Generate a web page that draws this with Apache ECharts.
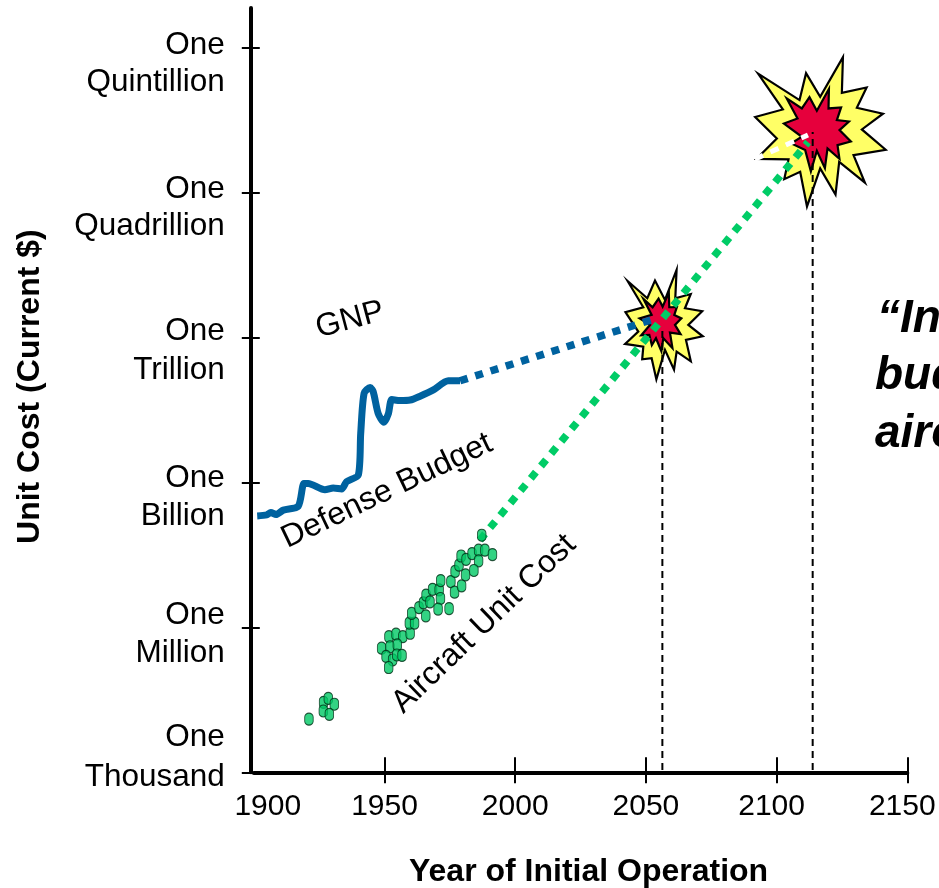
<!DOCTYPE html>
<html><head><meta charset="utf-8">
<style>html,body{margin:0;padding:0;background:#fff;overflow:hidden}#c{width:939px;height:888px}</style>
<script src="https://cdn.jsdelivr.net/npm/echarts@6/dist/echarts.min.js"></script>
</head><body><div id="c"></div>
<script>
// Y values are log10(US dollars)
const yearTicks = [1900,1950,2000,2050,2100,2150];
const yTicks = [3,6,9,12,15,18];
const yTickNames = {3:['One','Thousand'],6:['One','Million'],9:['One','Billion'],12:['One','Trillion'],15:['One','Quadrillion'],18:['One','Quintillion']};
const defenseYears = [1901.3,1904.9,1906.5,1908.5,1911.3,1917.0,1919.2,1920.8,1927.2,1930.4,1933.6,1935.5,1940.0,1940.9,1942.2,1944.5,1945.7,1947.6,1949.8,1951.5,1952.8,1955.9,1959.8,1963.6,1968.7,1974.4,1978.9];
const defenseLog = [8.31,8.33,8.38,8.34,8.43,8.51,8.98,8.98,8.85,8.89,8.87,9.02,9.16,10.02,10.85,10.97,10.88,10.43,10.25,10.43,10.72,10.70,10.71,10.79,10.92,11.11,11.11];
const aircraftYears = [1921.1,1926.7,1928.5,1930.8,1926.6,1928.9,1948.9,1951.7,1954.4,1957.0,1952.1,1954.9,1950.6,1953.1,1951.6,1954.7,1956.7,1959.8,1959.5,1961.5,1960.4,1963.2,1964.9,1965.9,1967.4,1965.8,1968.4,1970.9,1971.5,1971.4,1970.5,1974.7,1975.4,1976.8,1977.0,1979.5,1981.0,1978.5,1979.3,1981.2,1983.5,1986.0,1988.4,1991.3,1986.0,1984.2,1987.2];
const aircraftLog = [4.10,4.45,4.53,4.41,4.27,4.20,5.57,5.81,5.86,5.81,5.60,5.64,5.40,5.33,5.17,5.43,5.42,5.88,6.09,6.09,6.29,6.41,6.51,6.67,6.53,6.24,6.79,6.78,6.97,6.60,6.38,6.39,6.95,6.73,7.16,6.86,7.09,7.29,7.48,7.41,7.53,7.60,7.60,7.51,7.38,7.18,7.91];
const gnpProjection = [[1978.9,11.11],[2053.8,12.40]];
const aircraftProjection = [[1986.5,7.81],[2112,16.05]];
const dropSmall = [[2056.3,3.05],[2056.3,12.2]];
const dropLarge = [[2113.8,3.05],[2113.8,16.26]];
const whiteStreak = [[2091.7,15.70],[2112,16.20]];
const burstSmallCenter = [[2056.4,12.37]];
const burstLargeCenter = [[2115.4,16.37]];

// Burst outlines: traced outer edge, pixel offsets x3 around each burst's centre (shape only).
// Points alternate tip, valley. Tips are pulled in part of the stroke's miter so the stroked tip lands near the traced spot.
const LW=2.2;
const off=(pts,cx,cy)=>{
  const n=pts.length;
  const q=pts.map(p=>[(p[0]-cx)/3,(p[1]-cy)/3]);
  return q.map((p,i)=>{
    if(i%2) return p;
    const a=q[(i+n-1)%n],b=q[(i+1)%n];
    let u=[a[0]-p[0],a[1]-p[1]],v=[b[0]-p[0],b[1]-p[1]];
    const lu=Math.hypot(u[0],u[1]),lv=Math.hypot(v[0],v[1]);
    u=[u[0]/lu,u[1]/lu];v=[v[0]/lv,v[1]/lv];
    const th=Math.acos(u[0]*v[0]+u[1]*v[1]);
    const m=0.45*(LW/2)/Math.sin(th/2);
    const bx=u[0]+v[0],by=u[1]+v[1],bl=Math.hypot(bx,by)||1;
    return [p[0]+bx/bl*m,p[1]+by/bl*m];
  });
};
const smallYellow = off([[46,85],[112,145],[135,88],[165,150],[202,50],[196,145],[245,130],[225,175],[280,183],[235,225],[282,260],[228,270],[245,338],[200,305],[193,365],[165,300],[139,395],[125,325],[95,330],[100,290],[42,283],[85,245],[44,186],[100,172]],158,210);
const smallRed = off([[95,140],[128,172],[146,143],[158,170],[178,120],[178,172],[203,170],[193,195],[217,205],[195,225],[215,255],[180,248],[190,300],[160,265],[155,310],[138,265],[125,290],[118,255],[90,258],[120,225],[85,205],[125,195]],158,210);
const largeYellow = off([[48,95],[178,180],[197,95],[240,170],[310,45],[305,158],[382,140],[350,203],[432,220],[365,268],[440,330],[340,345],[378,433],[297,365],[287,468],[240,385],[200,505],[180,395],[130,420],[145,358],[45,358],[110,295],[42,230],[128,208]],230,260);
const largeRed = off([[135,170],[185,205],[208,168],[230,212],[268,140],[265,205],[305,200],[290,240],[330,243],[298,270],[335,305],[292,315],[300,360],[262,325],[255,390],[230,332],[212,400],[195,330],[150,310],[185,290],[128,250],[172,235]],230,260);

const burst = (name,center,shape,fill,z)=>({
  name,type:'custom',coordinateSystem:'cartesian2d',xAxisIndex:0,yAxisIndex:0,z,clip:false,silent:true,
  data:center,
  renderItem:(p,api)=>{
    const c=api.coord([api.value(0),api.value(1)]);
    return {type:'polygon',shape:{points:shape.map(o=>[c[0]+o[0],c[1]+o[1]])},style:{fill,stroke:'#000',lineWidth:LW,lineJoin:'miter',miterLimit:30}};
  }
});
const line = (name,data,color,width,dash,z,smooth)=>({
  name,type:'line',xAxisIndex:0,yAxisIndex:0,data,symbol:'none',z,smooth:smooth||false,clip:false,silent:true,
  lineStyle:{color,width,type:dash||'solid',cap:'butt'}
});

const F='"Liberation Sans",Arial,sans-serif';
const LS=31.5;
// vertical nudge of each two-line tick label, and its line spacing
const yNudge={18:[31,0,37],15:[29,0,37],12:[27,0,39],9:[30,0,38],6:[14,0,38],3:[0,30,40]};
const rich={};
Object.keys(yNudge).forEach(k=>rich['t'+k]={fontFamily:F,fontSize:LS,lineHeight:yNudge[k][2],align:'right',color:'#000',padding:[yNudge[k][0],0,yNudge[k][1],0]});
const xShift={1900:[0,0,0,28],2100:[0,10,0,0],2150:[0,10,0,0]};
const xRich={n:{fontFamily:F,fontSize:30,color:'#000'}};
Object.keys(xShift).forEach(k=>xRich['x'+k]={fontFamily:F,fontSize:30,color:'#000',padding:xShift[k]});

const yMax=18.83;
const ann=(text,x,y,deg)=>({type:'text',x,y,rotation:deg*Math.PI/180,z:50,style:{text,fill:'#000',font:'32px '+F,textAlign:'center',textVerticalAlign:'middle'}});
const quote=(text,x,y)=>({type:'text',x,y,z:50,style:{text,fill:'#000',font:'italic bold 46px '+F,textVerticalAlign:'middle'}});
const stadium='path://M0 3.5A3.5 3.5 0 0 1 7 3.5V7.5A3.5 3.5 0 0 1 0 7.5Z';

const chart=echarts.init(document.getElementById('c'),null,{renderer:'canvas'});
chart.setOption({
  animation:false,backgroundColor:'#fff',
  grid:{left:253.8,right:31.7,top:8,bottom:115.7,containLabel:false,outerBoundsMode:'none'},
  xAxis:[
    {type:'value',min:1900,max:2150,position:'bottom',splitLine:{show:false},
     name:'Year of Initial Operation',nameLocation:'middle',nameGap:84,
     nameTextStyle:{fontFamily:F,fontSize:32,fontWeight:'bold',color:'#000',padding:[0,0,0,16]},
     axisLine:{show:true,onZero:false,lineStyle:{color:'#000',width:4}},
     axisTick:{show:true,length:11,lineStyle:{color:'#000',width:2},customValues:yearTicks.slice(1)},
     axisLabel:{show:true,margin:19.5,customValues:yearTicks,rich:xRich,
       formatter:v=>xShift[v]?`{x${v}|${v}}`:`{n|${v}}`}},
    {type:'value',min:1900,max:2150,position:'bottom',splitLine:{show:false},
     axisLine:{show:false},axisLabel:{show:false},
     axisTick:{show:true,inside:true,length:15,lineStyle:{color:'#000',width:2},customValues:yearTicks.slice(1)}}
  ],
  yAxis:[
    {type:'value',min:3,max:yMax,position:'left',offset:3,splitLine:{show:false},
     name:'Unit Cost (Current $)',nameLocation:'middle',nameGap:205,nameRotate:90,
     nameTextStyle:{fontFamily:F,fontSize:32,fontWeight:'bold',color:'#000',padding:[0,0,0,7]},
     axisLine:{show:true,onZero:false,lineStyle:{color:'#000',width:4}},
     axisTick:{show:true,length:9,lineStyle:{color:'#000',width:2},customValues:yTicks},
     axisLabel:{show:true,margin:26,customValues:yTicks,rich,align:'right',
       formatter:v=>{const n=yTickNames[v];return `{t${v}|${n[0]}}\n{t${v}|${n[1]}}`;}}},
    {type:'value',min:3,max:yMax,position:'left',offset:3,splitLine:{show:false},
     axisLine:{show:false},axisLabel:{show:false},
     axisTick:{show:true,inside:true,length:9,lineStyle:{color:'#000',width:2},customValues:yTicks}}
  ],
  graphic:{elements:[
    ann('GNP',350,320,15),
    ann('Defense Budget',387,491,25.5),
    ann('Aircraft Unit Cost',484,624,44),
    quote('“In',877,319),quote('budget',875,376),quote('aircraft',875,434)
  ]},
  series:[
    burst('Burst 2056 outer',burstSmallCenter,smallYellow,'#FFFF66',3),
    burst('Burst 2056 inner',burstSmallCenter,smallRed,'#E6003C',4),
    burst('Burst 2115 outer',burstLargeCenter,largeYellow,'#FFFF66',3),
    burst('Burst 2115 inner',burstLargeCenter,largeRed,'#E6003C',4),
    line('Year marker 2056',dropSmall,'#000',2,[7,5],5),
    line('Year marker 2114',dropLarge,'#000',2,[7,5],5),
    line('Streak',whiteStreak,'#fff',5,[9,8],6),
    line('GNP projection',gnpProjection,'#00629F',7.5,[8,8],7),
    line('Aircraft projection',aircraftProjection,'#00CC66',7.5,[8,8],8),
    line('Defense Budget / GNP',defenseYears.map((y,i)=>[y,defenseLog[i]]),'#00629F',7,'solid',9,0.25),
    {name:'Aircraft Unit Cost',type:'scatter',xAxisIndex:0,yAxisIndex:0,z:10,silent:true,
     data:aircraftYears.map((y,i)=>[y,aircraftLog[i]]),symbol:stadium,symbolSize:[8.5,12],
     itemStyle:{color:'#00C864',borderColor:'#002a14',borderWidth:1}}
  ]
});
</script></body></html>
